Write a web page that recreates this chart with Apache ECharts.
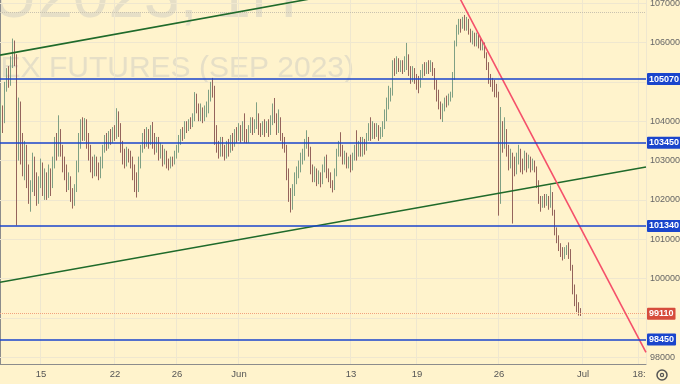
<!DOCTYPE html>
<html><head><meta charset="utf-8">
<script src="https://cdn.jsdelivr.net/npm/echarts@6/dist/echarts.min.js"></script>
<style>html,body{margin:0;padding:0;background:#fff3cc}#c{width:680px;height:384px}</style>
</head><body><div id="c"></div>
<script>
// [open, close, low, high]
const candles = [
[103800,104200,103650,104450],[104200,104050,103700,104400],[104050,104900,103950,105000],[104900,105200,104750,105350],
[105200,105000,104850,105400],[105000,105500,104900,105650],[105500,105800,105350,106100],[105800,105600,105400,106050],
[105600,103900,101350,105700],[103900,104300,103000,104600],[104300,103600,102900,104500],[103600,102800,102600,103700],
[102800,103300,102500,103500],[103300,102700,102300,103400],[102700,102100,101900,102900],[102100,102300,101700,102500],
[102300,102900,102200,103200],[102900,102500,102100,103100],[102500,102000,101850,102700],[102000,102400,101900,102600],
[102400,102800,102300,103050],[102800,102300,102100,102950],[102300,102600,102000,102800],[102600,102200,102000,102700],
[102200,102700,102050,102900],[102700,102400,102100,102800],[102400,102900,102300,103100],[102900,103400,102800,103600],
[103400,103200,103000,103700],[103200,103600,103100,104150],[103600,103300,103100,103800],[103300,102900,102700,103400],
[102900,102700,102500,103100],[102700,102400,102200,102900],[102400,102500,102250,102700],[102500,102100,101950,102600],
[102100,101950,101780,102300],[101950,102300,101850,102400],[102300,102800,102200,103000],[102800,103500,102700,103700],
[103500,103900,103300,104050],[103900,103700,103500,104100],[103700,104000,103500,104080],[104000,103500,103300,104050],
[103500,103200,103000,103700],[103200,102900,102700,103400],[102900,102700,102550,103100],[102700,103000,102600,103150],
[103000,102800,102600,103100],[102800,102650,102500,102950],[102650,102900,102550,103100],[102900,103300,102800,103400],
[103300,103500,103200,103650],[103500,103400,103250,103700],[103400,103600,103300,103750],[103600,103550,103400,103800],
[103550,103700,103450,103850],[103700,103600,103500,103900],[103600,104100,103550,104330],
[104100,103800,103600,104250],[103800,103400,103200,103950],[103400,103100,102900,103500],[103100,102900,102800,103300],
[102900,103200,102850,103350],[103200,103100,102950,103300],[103100,102900,102800,103250],[102900,102700,102500,103100],
[102700,102400,102200,102900],[102400,102300,102060,102700],[102300,102900,102200,103100],[102900,103300,102800,103400],
[103300,103600,103200,103700],[103600,103400,103300,103800],[103400,103700,103350,103850],[103700,103500,103300,103800],
[103500,103800,103400,103900],[103800,103600,103300,103980],[103600,103300,103150,103700],[103300,103500,103200,103600],
[103500,103200,103000,103600],[103200,103300,103050,103450],[103300,103000,102850,103400],[103000,103150,102900,103300],
[103150,102900,102800,103250],[102900,102850,102750,103050],[102850,103000,102800,103100],[103000,102950,102850,103100],
[102950,103100,102900,103250],[103100,103300,103050,103400],[103300,103500,103200,103650],[103500,103700,103400,103800],
[103700,103600,103500,103850],[103600,103900,103550,104000],[103900,103800,103700,104000],[103800,104000,103750,104050],
[104000,103900,103800,104100],[103900,104100,103850,104200],[104100,104600,104000,104740],[104600,104300,104200,104700],
[104300,104100,104000,104450],[104100,104300,104000,104450],[104300,104050,103950,104350],[104050,104200,104000,104400],
[104200,104300,104100,104500],[104300,104600,104200,104800],[104600,104900,104500,105000],[104900,104800,104600,105100],
[104800,103800,103400,104900],[103800,103400,103200,103900],[103400,103200,103050,103500],[103200,103500,103100,103600],
[103500,103300,103100,103600],[103300,103100,103000,103400],[103100,103400,103050,103500],[103400,103300,103100,103550],
[103300,103500,103200,103650],[103500,103400,103250,103700],[103400,103700,103350,103800],[103700,103600,103450,103850],
[103600,103800,103500,103950],
[103800,103600,103450,103900],[103600,103850,103500,104000],[103850,103700,103450,104200],[103700,103500,103440,103800],
[103500,103800,103450,103900],[103800,104000,103700,104100],[104000,103800,103650,104100],[103800,103900,103700,104050],
[103900,104100,103800,104480],[104100,103800,103650,104200],[103800,103700,103600,103950],[103700,103900,103650,104000],
[103900,103800,103600,104050],[103800,103900,103700,104000],[103900,103700,103600,104050],[103700,104000,103650,104150],
[104000,104300,103900,104450],[104300,104100,103950,104590],[104100,103800,103650,104200],[103800,104000,103700,104300],
[104000,103600,103500,104100],[103600,103500,103300,103700],[103500,103300,103200,103600],[103300,102700,102500,103400],
[102700,102200,101950,102800],[102200,101900,101680,102300],[101900,102200,101750,102400],[102200,102500,102100,102700],
[102500,102700,102400,102850],[102700,102800,102550,103000],[102800,103000,102700,103200],[103000,103100,102900,103300],
[103100,103400,103000,103550],[103400,103500,103300,103770],[103500,103300,103100,103600],[103300,102800,102650,103350],
[102800,102600,102450,102900],[102600,102700,102450,102850],[102700,102500,102350,102800],[102500,102600,102400,102750],
[102600,102500,102320,102700],[102500,102800,102400,102900],[102800,103000,102700,103100],[103000,102700,102550,103150],
[102700,102600,102450,102800],[102600,102400,102300,102700],[102400,102300,102190,102500],[102300,102700,102250,102800],
[102700,103200,102600,103300],[103200,103400,103100,103500],[103400,103300,103100,103720],[103300,103000,102900,103400],
[103000,103100,102900,103250],[103100,102900,102800,103200],[102900,103000,102800,103100],[103000,102800,102700,103150],
[102800,103100,102750,103200],[103100,103300,103000,103400],[103300,103200,103000,103770],[103200,103400,103100,103500],
[103400,103200,103100,103600],[103200,103450,103100,103600],[103450,103300,103150,103550],[103300,103600,103250,103700],
[103600,103800,103500,103950],[103800,103600,103500,104100],[103600,103850,103550,104000],[103850,103700,103550,103950],
[103700,103800,103600,103950],[103800,103650,103500,103900],[103650,103700,103550,103850],[103700,103900,103600,104000],
[103900,104100,103800,104300],[104100,104400,104000,104600],[104400,104600,104300,104900],[104600,104700,104500,104850],
[104700,105400,104650,105550],[105400,105300,105150,105600],[105300,105500,105200,105650],[105500,105350,105250,105600],
[105350,105450,105250,105550],[105450,105300,105200,105550],[105300,105500,105250,105650],[105500,105600,105300,105990],
[105600,105300,105150,105700],[105300,105100,104950,105400],[105100,105300,105000,105400],[105300,105150,104950,105350],
[105150,105050,104800,105200],[105050,104900,104710,105150],[104900,105200,104850,105300],[105200,105350,105100,105450],
[105350,105250,105150,105500],[105250,105400,105200,105500],[105400,105300,105200,105550],[105300,105450,105250,105550],
[105450,105300,105150,105500],[105300,105000,104800,105350],[105000,104700,104500,105050],[104700,104450,104300,104800],
[104450,104200,104050,104500],[104200,104350,103980,104450],[104350,104500,104250,104600],[104500,104450,104350,104650],
[104450,104600,104400,104700],[104600,104650,104500,104750],[104650,105100,104600,105250],[105100,106000,105050,106050],
[106000,106300,105900,106450],[106300,106500,106200,106600],[106500,106400,106250,106600],[106400,106550,106350,106650],
[106550,106450,106300,106700],[106450,106550,106300,106650],[106550,106300,106200,106600],[106300,106100,106000,106350],
[106100,106200,105950,106300],[106200,106000,105900,106250],[106000,106150,105900,106250],[106150,106000,105850,106200],
[106000,105900,105800,106100],[105900,105950,105800,106050],[105950,105700,105600,106000],[105700,105400,105300,105750],
[105400,105100,104950,105500],[105100,105000,104870,105200],[105000,104900,104750,105100],[104900,104800,104610,105050],
[104800,104700,104600,104950],[104700,102000,101600,104750],[102000,103800,101900,104360],[103800,103400,103200,104000],
[103400,103700,103300,104100],[103700,103300,103100,103800],[103300,102900,102750,103400],[102900,103100,102800,103300],
[103100,102900,101400,103200],[102900,102700,102600,103100],[102700,103000,102650,103200],[103000,103200,102900,103400],
[103200,102900,102700,103300],[102900,102800,102650,103050],[102800,103100,102750,103250],[103100,102900,102700,103200],
[102900,103000,102800,103150],[103000,102850,102700,103100],[102850,102950,102750,103050],[102950,102800,102700,103000],
[102800,102400,102300,102850],[102400,102000,101900,102500],[102000,101900,101700,102100],[101900,102000,101800,102100],
[102000,101950,101800,102150],[101950,102050,101850,102150],[102050,101900,101750,102100],[101900,102100,101800,102370],
[102100,101700,101600,102200],[101700,101200,101100,101750],[101200,101000,100900,101300],[101000,100800,100700,101100],
[100800,100700,100550,100900],[100700,100600,100460,100800],[100600,100700,100500,100800],[100700,100750,100600,100850],
[100750,100650,100500,100920],[100650,100300,100200,100750],[100300,99700,99600,100350],[99700,99500,99300,99850],
[99500,99300,99150,99600],[99300,99200,99060,99400],[99200,99110,99050,99250]
];
const totalSlots = 323;
const tickSlots = [20, 57, 88, 119, 175, 208, 249, 291, 319];
const tickLabels = ['15', '22', '26', 'Jun', '13', '19', '26', 'Jul', '18:'];
const yLabelValues = [98000, 100000, 101000, 102000, 103000, 104000, 106000, 107000];
const gridValues = [98000, 99000, 100000, 101000, 102000, 103000, 104000, 105000, 106000, 107000];
const levelLines = [105070, 103450, 101340, 98450];
const lastPrice = 99110;
const sessionHigh = 106760;
const upperGreen = [[0, 105680], [170, 107245]];
const lowerGreen = [[0, 99906], [323, 102836]];
const redLine = [[229.5, 107164], [323, 98123]];

const cats = [];
for (let i = 0; i < totalSlots; i++) cats.push(String(i));
const FONT = "'Liberation Sans',Arial,sans-serif";
const isTick = (i) => tickSlots.indexOf(i) >= 0;

const chart = echarts.init(document.getElementById('c'), null, {renderer: 'canvas'});
chart.setOption({
  animation: false,
  backgroundColor: '#fff3cc',
  grid: {left: 0, right: 34, top: 0, bottom: 20, containLabel: false, outerBoundsMode: 'none'},
  graphic: [
    {type: 'text', z: 0, silent: true, style: {text: 'RIU2023, 1H', x: 297, y: -1, align: 'right', verticalAlign: 'middle', font: "64px 'Liberation Sans',Arial,sans-serif", fill: '#e6dfc7'}},
    {type: 'text', z: 0, silent: true, style: {text: 'RTS INDEX FUTURES (SEP 2023)', x: 354, y: 69, align: 'right', verticalAlign: 'middle', font: "30px 'Liberation Sans',Arial,sans-serif", fill: '#e6dfc7'}},
    {type: 'circle', z: 10, silent: true, shape: {cx: 662, cy: 375, r: 5}, style: {fill: 'none', stroke: '#555', lineWidth: 1.5}},
    {type: 'circle', z: 10, silent: true, shape: {cx: 662, cy: 375, r: 1.6}, style: {fill: 'none', stroke: '#555', lineWidth: 1.2}}
  ],
  xAxis: [{
    type: 'category', data: cats, boundaryGap: true,
    axisLine: {lineStyle: {color: '#8c8c8c', width: 1}},
    axisTick: {show: false},
    axisLabel: {interval: (i) => isTick(i), formatter: (v, i) => tickLabels[tickSlots.indexOf(i)] || '', color: '#555', fontSize: 9.5, margin: 5, fontFamily: FONT},
    splitLine: {show: true, interval: (i) => isTick(i), lineStyle: {color: '#efe7cf', width: 1}}
  }, {
    type: 'value', min: 0, max: totalSlots, show: false
  }],
  yAxis: {
    type: 'value', position: 'right', min: 97830, max: 107080,
    axisLine: {show: true, lineStyle: {color: '#8c8c8c'}},
    axisTick: {show: false},
    splitLine: {show: false},
    axisLabel: {customValues: yLabelValues, formatter: (v) => String(v), color: '#666', fontSize: 9, margin: 4, fontFamily: FONT}
  },
  series: [
    {type: 'line', data: [], silent: true, z: 1,
      markLine: {silent: true, symbol: 'none', z: 1, animation: false, label: {show: false},
        lineStyle: {color: '#efe7cf', type: 'solid', width: 1},
        data: gridValues.map(v => ({yAxis: v}))}},
    {type: 'line', data: [], silent: true, z: 1,
      markLine: {silent: true, symbol: 'none', z: 1, animation: false, label: {show: false},
        lineStyle: {color: '#c9c2b0', type: 'dotted', width: 1},
        data: [{yAxis: sessionHigh}]}},
    {type: 'candlestick', data: candles, barWidth: 1.2, z: 2,
      itemStyle: {color: '#4f8d58', color0: '#7d3028', borderColor: '#7fa084', borderColor0: '#95645c', borderWidth: 1}},
    {type: 'line', xAxisIndex: 1, data: upperGreen, symbol: 'none', z: 4, silent: true, lineStyle: {color: '#1f6a2a', width: 1.6}},
    {type: 'line', xAxisIndex: 1, data: lowerGreen, symbol: 'none', z: 4, silent: true, lineStyle: {color: '#1f6a2a', width: 1.6}},
    {type: 'line', xAxisIndex: 1, data: redLine, symbol: 'none', z: 4, silent: true, lineStyle: {color: '#f5506a', width: 1.6}},
    {type: 'line', data: [], silent: true, z: 5,
      markLine: {silent: true, symbol: 'none', animation: false,
        lineStyle: {color: '#f2a27e', type: 'dotted', width: 1},
        label: {show: true, position: 'end', distance: 1, formatter: (p) => String(p.value), color: '#fff', backgroundColor: '#d64c3c', padding: [2, 2, 1, 2], fontSize: 9, fontWeight: 'bold', fontFamily: FONT, borderRadius: 1},
        data: [{yAxis: lastPrice}]}},
    {type: 'line', data: [], silent: true, z: 6,
      markLine: {silent: true, symbol: 'none', animation: false,
        lineStyle: {color: '#1a45cc', type: 'solid', width: 1.6},
        label: {show: true, position: 'end', distance: 1, formatter: (p) => String(p.value), color: '#fff', backgroundColor: '#1a45cc', padding: [2, 2, 1, 2], fontSize: 9, fontWeight: 'bold', fontFamily: FONT, borderRadius: 1},
        data: levelLines.map(v => ({yAxis: v}))}}
  ]
});
</script></body></html>
